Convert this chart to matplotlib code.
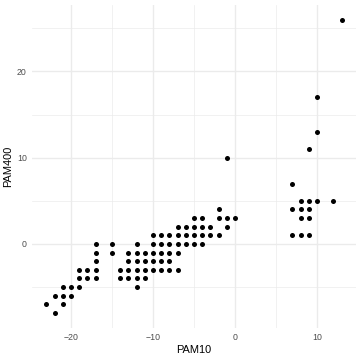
import matplotlib
matplotlib.use("Agg")
import matplotlib.pyplot as plt
from matplotlib.ticker import MultipleLocator

# Data (PAM10 vs PAM400)
pam10 = [-23, -22, -22, -21, -21, -21, -20, -20, -19, -19, -19, -18, -18,
         -17, -17, -17, -17, -17, -15, -15, -14, -14,
         -13, -13, -13, -13, -12, -12, -12, -12, -12, -12,
         -11, -11, -11, -11, -10, -10, -10, -10, -10,
         -9, -9, -9, -9, -9, -8, -8, -8, -8, -8,
         -7, -7, -7, -7, -7, -6, -6, -6, -5, -5, -5, -5,
         -4, -4, -4, -4, -3, -3, -2, -2, -2, -1, -1, -1, 0,
         7, 7, 7, 8, 8, 8, 8, 9, 9, 9, 9, 9, 10, 10, 10, 12, 13]
pam400 = [-7, -8, -6, -5, -6, -7, -5, -6, -3, -4, -5, -3, -4,
          0, -1, -2, -3, -4, 0, -1, -3, -4,
          -1, -2, -3, -4, 0, -1, -2, -3, -4, -5,
          -1, -2, -3, -4, 1, 0, -1, -2, -3,
          1, 0, -1, -2, -3, 1, 0, -1, -2, -3,
          2, 1, 0, -1, -3, 2, 1, 0, 3, 2, 1, 0,
          3, 2, 1, 0, 2, 1, 4, 3, 1, 10, 3, 2, 3,
          7, 4, 1, 5, 4, 3, 1, 11, 5, 4, 3, 1, 17, 13, 5, 5, 26]

plt.rcParams['font.family'] = ['Liberation Sans', 'DejaVu Sans']

fig = plt.figure(figsize=(3.6, 3.6), dpi=100)
ax = fig.add_axes([0.088, 0.09, 0.902, 0.896])

ax.scatter(pam10, pam400, s=13, color='black', linewidths=0, zorder=3)

ax.set_xlim(-24.8, 14.8)
ax.set_ylim(-9.7, 27.7)
ax.xaxis.set_major_locator(MultipleLocator(10))
ax.yaxis.set_major_locator(MultipleLocator(10))
ax.xaxis.set_minor_locator(MultipleLocator(5))
ax.yaxis.set_minor_locator(MultipleLocator(5))

ax.grid(which='major', color='#EBEBEB', linewidth=1.0)
ax.grid(which='minor', color='#EBEBEB', linewidth=0.5)
ax.set_axisbelow(True)

for s in ax.spines.values():
    s.set_visible(False)
ax.tick_params(which='both', length=0, labelsize=6.3, labelcolor='#4D4D4D', pad=3.6)

ax.set_xlabel('PAM10', fontsize=7.9, color='black', labelpad=2.5)
ax.set_ylabel('PAM400', fontsize=7.9, color='black', labelpad=2.5)

fig.savefig('out.png', dpi=100, facecolor='white')
